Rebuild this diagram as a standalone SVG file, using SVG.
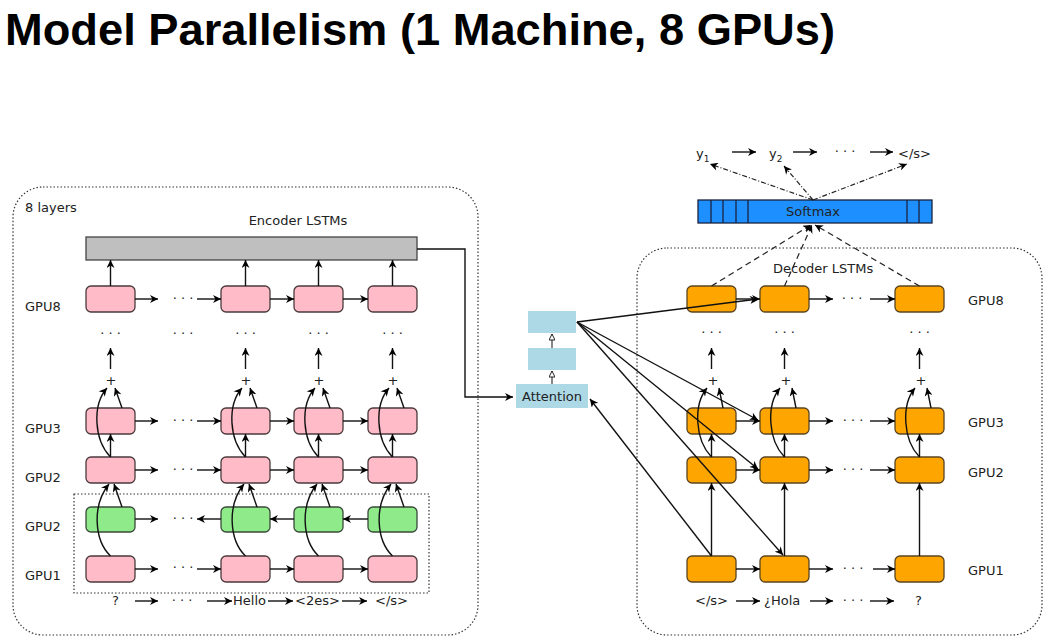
<svg xmlns="http://www.w3.org/2000/svg" width="1055" height="643" viewBox="0 0 1055 643">
<defs>
<style>
text{font-family:"DejaVu Sans","Liberation Sans",sans-serif;font-size:13px;fill:#222}
.title{font-family:"Liberation Sans","DejaVu Sans",sans-serif;font-size:44px;font-weight:bold;fill:#000}
.pink{fill:#FFBCC8;stroke:#4a3a3c;stroke-width:1.3}
.green{fill:#8FEA8A;stroke:#3a4a3a;stroke-width:1.3}
.orange{fill:#FFA500;stroke:#5a4420;stroke-width:1.3}
.blue{fill:#ADD8E6}
.dot{fill:none;stroke:#333;stroke-width:1.2;stroke-dasharray:1.5 2}
.c{fill:none;stroke:#111;stroke-width:1.4}
.ar{marker-end:url(#a)}
.dash{fill:none;stroke:#222;stroke-width:1.2;stroke-dasharray:6 4;marker-end:url(#a)}
.dd{fill:none;stroke:#222;stroke-width:1.2;stroke-dasharray:5 2 1 2;marker-end:url(#a)}
.op{fill:none;stroke:#111;stroke-width:1;marker-end:url(#o)}
.mid{text-anchor:middle}
</style>
<marker id="a" viewBox="0 0 10 10" refX="10" refY="5" markerWidth="9" markerHeight="8" markerUnits="userSpaceOnUse" orient="auto"><path d="M0,0 L10,5 L0,10 L3,5 z" fill="#000"/></marker>
<marker id="o" viewBox="0 0 10 10" refX="10" refY="5" markerWidth="7" markerHeight="6" markerUnits="userSpaceOnUse" orient="auto"><path d="M0,0 L10,5 L0,10 z" fill="#fff" stroke="#111" stroke-width="1.5"/></marker>
</defs>
<rect width="1055" height="643" fill="#fff"/>
<text class="title" x="5" y="45" textLength="830" lengthAdjust="spacingAndGlyphs">Model Parallelism (1 Machine, 8 GPUs)</text>

<g id="encoder-frame">
<rect class="dot" x="13" y="187" width="465" height="448" rx="30"/>
<text x="25" y="212">8 layers</text>
<text class="mid" x="298" y="225">Encoder LSTMs</text>
<rect class="dot" x="74" y="494" width="355" height="99"/>
</g>
<g id="encoder-bar"><rect x="86" y="237" width="331" height="23" fill="#BFBFBF" stroke="#444" stroke-width="1.3"/></g>

<g id="enc-labels">
<text x="25" y="311">GPU8</text>
<text x="25" y="433">GPU3</text>
<text x="25" y="482">GPU2</text>
<text x="25" y="531">GPU2</text>
<text x="25" y="580">GPU1</text>
</g>

<g id="enc-gpu8"><rect class="pink" x="86" y="286" width="49" height="26" rx="5"/><rect class="pink" x="221" y="286" width="49" height="26" rx="5"/><rect class="pink" x="294" y="286" width="49" height="26" rx="5"/><rect class="pink" x="368" y="286" width="49" height="26" rx="5"/></g>
<g id="enc-gpu3"><rect class="pink" x="86" y="408" width="49" height="26" rx="5"/><rect class="pink" x="221" y="408" width="49" height="26" rx="5"/><rect class="pink" x="294" y="408" width="49" height="26" rx="5"/><rect class="pink" x="368" y="408" width="49" height="26" rx="5"/></g>
<g id="enc-gpu2"><rect class="pink" x="86" y="457" width="49" height="26" rx="5"/><rect class="pink" x="221" y="457" width="49" height="26" rx="5"/><rect class="pink" x="294" y="457" width="49" height="26" rx="5"/><rect class="pink" x="368" y="457" width="49" height="26" rx="5"/></g>
<g id="enc-gpu2-back"><rect class="green" x="86" y="507" width="49" height="25" rx="5"/><rect class="green" x="221" y="507" width="49" height="25" rx="5"/><rect class="green" x="294" y="507" width="49" height="25" rx="5"/><rect class="green" x="368" y="507" width="49" height="25" rx="5"/></g>
<g id="enc-gpu1"><rect class="pink" x="86" y="556" width="49" height="26" rx="5"/><rect class="pink" x="221" y="556" width="49" height="26" rx="5"/><rect class="pink" x="294" y="556" width="49" height="26" rx="5"/><rect class="pink" x="368" y="556" width="49" height="26" rx="5"/></g>

<g id="enc-text">
<text class="mid" x="110.5" y="338">· · ·</text><text class="mid" x="183" y="338">· · ·</text><text class="mid" x="245.5" y="338">· · ·</text><text class="mid" x="318.5" y="338">· · ·</text><text class="mid" x="392.5" y="338">· · ·</text>
<text class="mid" x="111" y="385">+</text><text class="mid" x="246" y="385">+</text><text class="mid" x="319" y="385">+</text><text class="mid" x="393" y="385">+</text>
<text class="mid" x="183" y="303">· · ·</text><text class="mid" x="183" y="425">· · ·</text><text class="mid" x="183" y="474">· · ·</text><text class="mid" x="183" y="523">· · ·</text><text class="mid" x="183" y="572">· · ·</text>
<text x="112" y="605">?</text><text class="mid" x="182" y="605">· · ·</text><text x="233" y="605">Hello</text><text x="295" y="605">&lt;2es&gt;</text><text x="375" y="605">&lt;/s&gt;</text>
</g>

<g id="attention">
<rect class="blue" x="528" y="311" width="48" height="22"/>
<rect class="blue" x="528" y="348" width="48" height="22"/>
<rect class="blue" x="516" y="384" width="72" height="24"/>
<text class="mid" x="552" y="401">Attention</text>
</g>

<g id="decoder-frame">
<rect class="dot" x="637" y="248" width="405" height="387" rx="30"/>
<text x="773" y="273">Decoder LSTMs</text>
<text x="968" y="305">GPU8</text>
<text x="968" y="427">GPU3</text>
<text x="968" y="477">GPU2</text>
<text x="968" y="575">GPU1</text>
</g>

<g id="softmax">
<rect x="698" y="200" width="234" height="23" fill="#1E8FFF" stroke="#1a2440" stroke-width="1.3"/>
<path d="M711,200V223M723,200V223M736,200V223M748,200V223M907,200V223M919,200V223" stroke="#1a2440" stroke-width="1.3"/>
<text class="mid" x="813" y="216">Softmax</text>
</g>

<g id="dec-gpu8"><rect class="orange" x="687" y="286" width="49" height="26" rx="5"/><rect class="orange" x="760" y="286" width="49" height="26" rx="5"/><rect class="orange" x="895" y="286" width="49" height="26" rx="5"/></g>
<g id="dec-gpu3"><rect class="orange" x="687" y="408" width="49" height="26" rx="5"/><rect class="orange" x="760" y="408" width="49" height="26" rx="5"/><rect class="orange" x="895" y="408" width="49" height="26" rx="5"/></g>
<g id="dec-gpu2"><rect class="orange" x="687" y="457" width="49" height="26" rx="5"/><rect class="orange" x="760" y="457" width="49" height="26" rx="5"/><rect class="orange" x="895" y="457" width="49" height="26" rx="5"/></g>
<g id="dec-gpu1"><rect class="orange" x="687" y="556" width="49" height="26" rx="5"/><rect class="orange" x="760" y="556" width="49" height="26" rx="5"/><rect class="orange" x="895" y="556" width="49" height="26" rx="5"/></g>

<g id="dec-text">
<text class="mid" x="711.5" y="337">· · ·</text><text class="mid" x="784.5" y="337">· · ·</text><text class="mid" x="919.5" y="337">· · ·</text>
<text class="mid" x="713" y="385">+</text><text class="mid" x="786" y="385">+</text><text class="mid" x="921" y="385">+</text>
<text class="mid" x="852" y="303">· · ·</text><text class="mid" x="853" y="425">· · ·</text><text class="mid" x="853" y="474">· · ·</text><text class="mid" x="853" y="573">· · ·</text>
<text x="695" y="605">&lt;/s&gt;</text><text x="764" y="605">¿Hola</text><text class="mid" x="853" y="605">· · ·</text><text x="915" y="605">?</text>
<text x="696" y="158">y<tspan font-size="9" dy="4">1</tspan></text>
<text x="769" y="158">y<tspan font-size="9" dy="4">2</tspan></text>
<text class="mid" x="845" y="156">· · ·</text>
<text x="898" y="158">&lt;/s&gt;</text>
</g>

<g id="connectors">
<path class="c ar" d="M110.5,286V260"/><path class="c ar" d="M245.5,286V260"/><path class="c ar" d="M318.5,286V260"/><path class="c ar" d="M392.5,286V260"/>
<path class="c ar" d="M110.5,369V348"/><path class="c ar" d="M245.5,369V348"/><path class="c ar" d="M318.5,369V348"/><path class="c ar" d="M392.5,369V348"/>
<path class="c ar" d="M110.5,457V434"/><path class="c ar" d="M245.5,457V434"/><path class="c ar" d="M318.5,457V434"/><path class="c ar" d="M392.5,457V434"/>
<path class="c ar" d="M110.5,457C94,440 92,405 107,388"/><path class="c ar" d="M245.5,457C229,440 227,405 242,388"/><path class="c ar" d="M318.5,457C302,440 300,405 315,388"/><path class="c ar" d="M392.5,457C376,440 374,405 389,388"/>
<path class="c ar" d="M122,408L115,388"/><path class="c ar" d="M257,408L250,388"/><path class="c ar" d="M330,408L323,388"/><path class="c ar" d="M404,408L397,388"/>
<path class="c ar" d="M110.5,556C94,540 92,505 109,484"/><path class="c ar" d="M245.5,556C229,540 227,505 244,484"/><path class="c ar" d="M318.5,556C302,540 300,505 317,484"/><path class="c ar" d="M392.5,556C376,540 374,505 391,484"/>
<path class="c ar" d="M122,507L114,484"/><path class="c ar" d="M257,507L249,484"/><path class="c ar" d="M330,507L322,484"/><path class="c ar" d="M404,507L396,484"/>
<path class="c ar" d="M135,299H158"/><path class="c ar" d="M197,299H221"/><path class="c ar" d="M270,299H294"/><path class="c ar" d="M343,299H368"/>
<path class="c ar" d="M135,421H158"/><path class="c ar" d="M197,421H221"/><path class="c ar" d="M270,421H294"/><path class="c ar" d="M343,421H368"/>
<path class="c ar" d="M135,470H158"/><path class="c ar" d="M197,470H221"/><path class="c ar" d="M270,470H294"/><path class="c ar" d="M343,470H368"/>
<path class="c ar" d="M135,519H158"/><path class="c ar" d="M221,519H197"/><path class="c ar" d="M294,519H270"/><path class="c ar" d="M368,519H343"/>
<path class="c ar" d="M135,569H158"/><path class="c ar" d="M197,569H221"/><path class="c ar" d="M270,569H294"/><path class="c ar" d="M343,569H368"/>
<path class="c ar" d="M135,601H158"/><path class="c ar" d="M207,601H232"/><path class="c ar" d="M268,601H293"/><path class="c ar" d="M342,601H367"/>
<path class="c ar" d="M417,249H465V397H513"/>
<path class="op" d="M552,384V371"/><path class="op" d="M552,348V334"/>
<path class="c ar" d="M577,322L758,299"/><path class="c ar" d="M577,322L758,420"/><path class="c ar" d="M577,322L758,469"/><path class="c ar" d="M577,322L783,555"/>
<path class="c ar" d="M711.5,556L590,399"/>
<path class="c ar" d="M711.5,369V348"/><path class="c ar" d="M784.5,369V348"/><path class="c ar" d="M919.5,369V348"/>
<path class="c ar" d="M711.5,457V434"/><path class="c ar" d="M784.5,457V434"/><path class="c ar" d="M919.5,457V434"/>
<path class="c ar" d="M711.5,457C695,440 693,405 707,388"/><path class="c ar" d="M784.5,457C768,440 766,405 780,388"/><path class="c ar" d="M919.5,457C903,440 901,405 915,388"/>
<path class="c ar" d="M723,408L719,388"/><path class="c ar" d="M796,408L792,388"/><path class="c ar" d="M931,408L927,388"/>
<path class="c ar" d="M711.5,556V483"/><path class="c ar" d="M784.5,556V483"/><path class="c ar" d="M919.5,556V483"/>
<path class="c ar" d="M736,299H760"/><path class="c ar" d="M809,299H833"/><path class="c ar" d="M870,299H895"/>
<path class="c ar" d="M736,421H760"/><path class="c ar" d="M809,421H833"/><path class="c ar" d="M870,421H895"/>
<path class="c ar" d="M736,470H760"/><path class="c ar" d="M809,470H833"/><path class="c ar" d="M870,470H895"/>
<path class="c ar" d="M736,569H760"/><path class="c ar" d="M809,569H833"/><path class="c ar" d="M873,569H895"/>
<path class="c ar" d="M736,601H760"/><path class="c ar" d="M810,601H833"/><path class="c ar" d="M870,601H894"/>
<path class="dash" d="M711.5,286L811,225"/><path class="dash" d="M784.5,286L812,225"/><path class="dash" d="M919.5,286L815,225"/>
<path class="dd" d="M813,200L710,164"/><path class="dd" d="M813,200L784,166"/><path class="dd" d="M813,200L907,164"/>
<path class="c ar" d="M732,152H756"/><path class="c ar" d="M793,152H817"/><path class="c ar" d="M870,152H893"/>
</g>
</svg>
